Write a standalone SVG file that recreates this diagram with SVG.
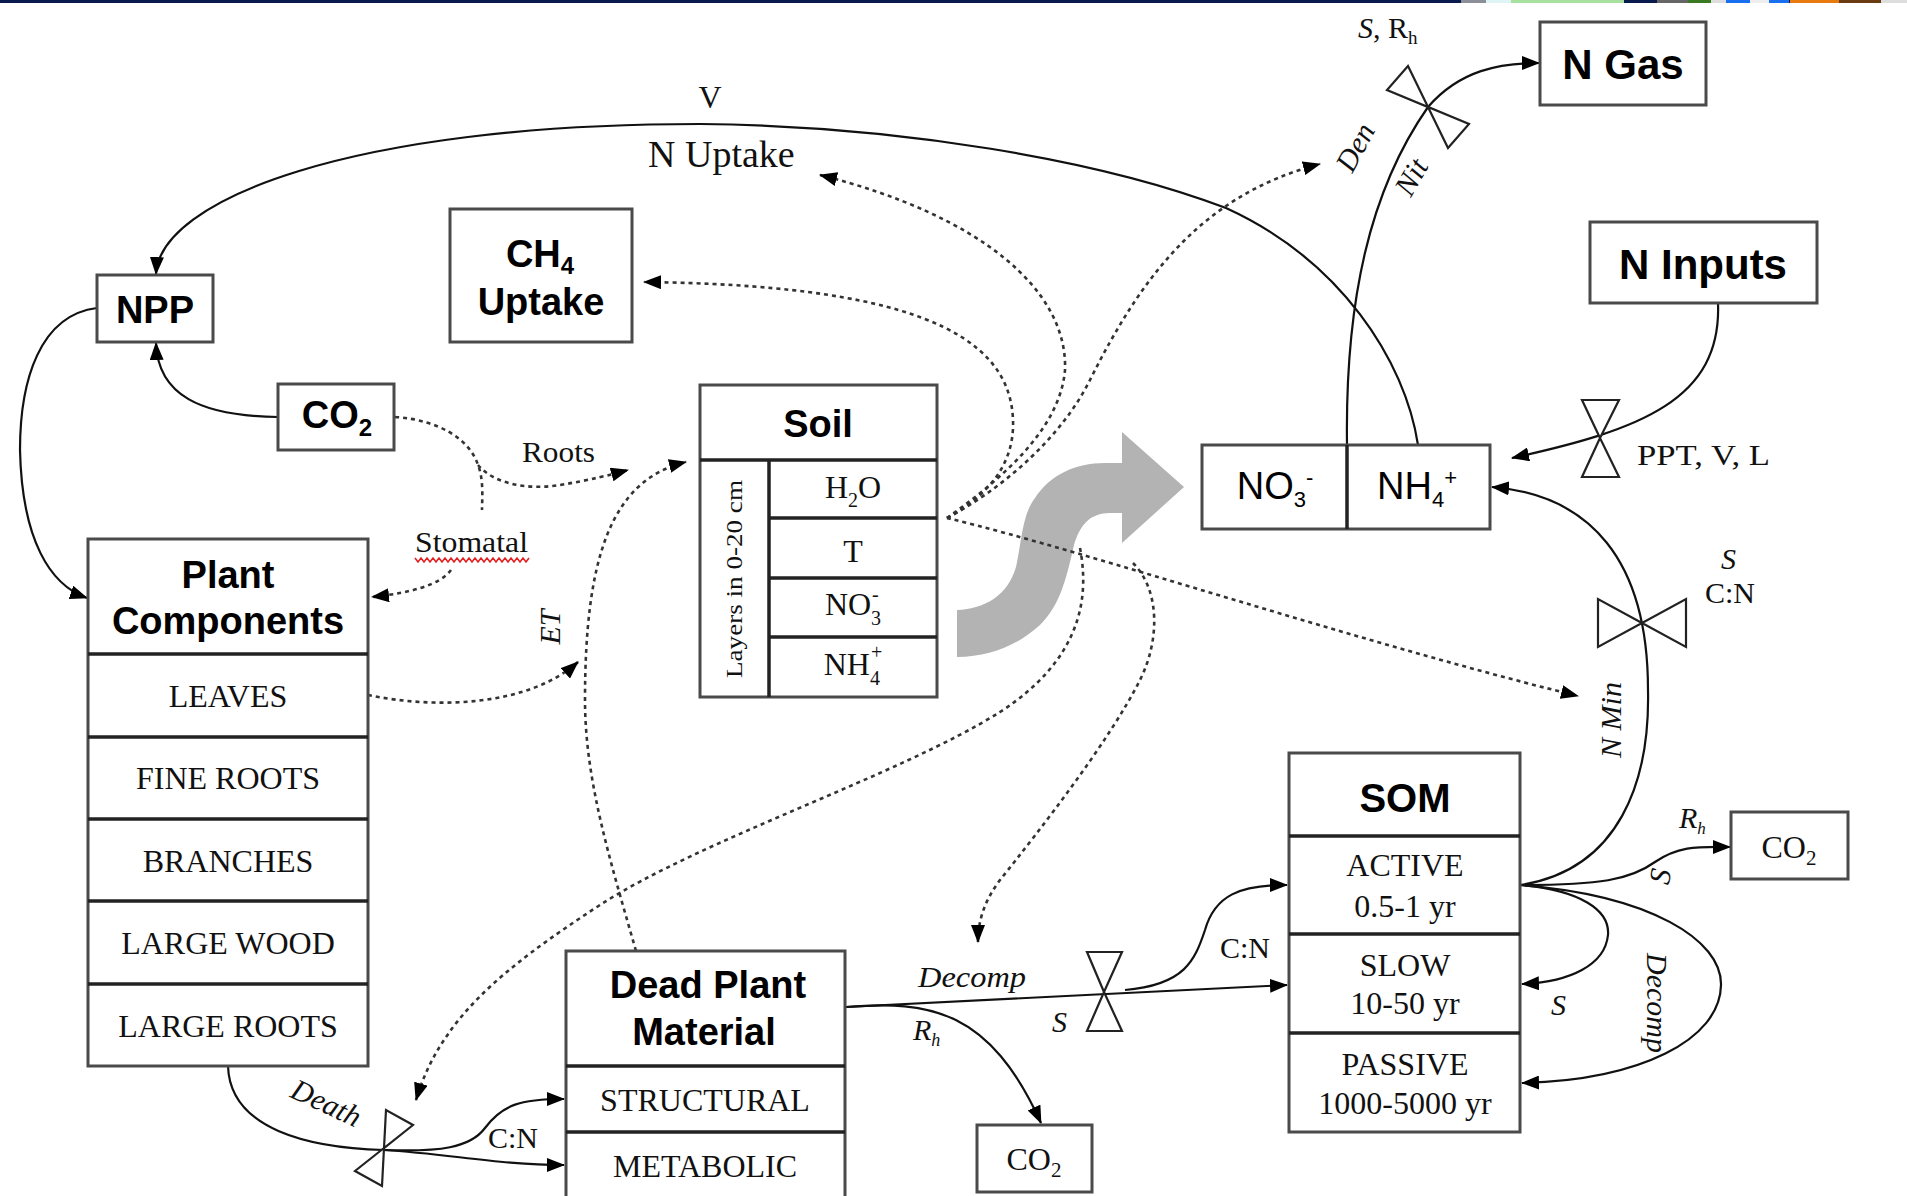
<svg xmlns="http://www.w3.org/2000/svg" width="1907" height="1196" viewBox="0 0 1907 1196">
<style>
.box{fill:#fff;stroke:#4a4a4a;stroke-width:3}
.div{stroke:#222;stroke-width:3.5}
.hb{font-family:"Liberation Sans",Arial,sans-serif;font-weight:bold;font-size:38px;text-anchor:middle;fill:#000}
.sn{font-family:"Liberation Sans",Arial,sans-serif;font-size:38px;text-anchor:middle;fill:#000}
.sr{font-family:"Liberation Serif","Times New Roman",serif;font-size:32px;text-anchor:middle;fill:#111}
.lb{font-family:"Liberation Serif","Times New Roman",serif;font-size:30px;fill:#111}
.it{font-style:italic}
.ln{fill:none;stroke:#111;stroke-width:2.2}
.dt{fill:none;stroke:#333;stroke-width:2.6;stroke-dasharray:4 4}
.valve{fill:#fff;stroke:#222;stroke-width:2.2;stroke-linejoin:miter}
</style>
<defs>
<marker id="ah" viewBox="0 0 18 14" refX="17" refY="7" markerWidth="18" markerHeight="14" markerUnits="userSpaceOnUse" orient="auto"><path d="M0,0 L18,7 L0,14 z" fill="#000" stroke="none"/></marker>
</defs>
<rect width="1907" height="1196" fill="#fff"/>
<g id="topbar">
<rect x="0" y="0" width="1907" height="3" fill="#0b1a4d"/>
<rect x="1461" y="0" width="25" height="3" fill="#8a8f9a"/>
<rect x="1486" y="0" width="25" height="3" fill="#dff5f5"/>
<rect x="1511" y="0" width="113" height="3" fill="#a8e0a0"/>
<rect x="1657" y="0" width="31" height="3" fill="#666"/>
<rect x="1688" y="0" width="23" height="3" fill="#3a7a20"/>
<rect x="1711" y="0" width="15" height="3" fill="#ddd"/>
<rect x="1726" y="0" width="24" height="3" fill="#1a6ef0"/>
<rect x="1750" y="0" width="19" height="3" fill="#eee"/>
<rect x="1769" y="0" width="20" height="3" fill="#1a6ef0"/>
<rect x="1790" y="0" width="49" height="3" fill="#e87a10"/>
<rect x="1839" y="0" width="42" height="3" fill="#6a3a10"/>
<rect x="1881" y="0" width="26" height="3" fill="#ddd"/>
</g>
<path id="gray-arrow" d="M957,610 C985,609 1008,595 1016,567 C1022,540 1022,515 1035,498 C1050,475 1075,463 1105,463 L1122,463 L1122,432 L1184,487 L1122,543 L1122,513 L1110,513 C1090,513 1080,525 1074,545 C1066,580 1060,605 1040,625 C1018,645 990,657 957,657 Z" fill="#b3b3b3"/>
<g id="connectors">
<path class="ln" d="M1418,445 C1405,360 1340,260 1226,208 C1100,160 900,126 700,124 C350,124 160,200 156,274" marker-end="url(#ah)"/>
<path class="ln" d="M1347,445 C1345,300 1370,190 1428,107 C1460,70 1500,63 1539,63" marker-end="url(#ah)"/>
<path class="ln" d="M1718,303 C1722,400 1640,430 1512,458" marker-end="url(#ah)"/>
<path class="ln" d="M1520,885 C1620,870 1650,780 1648,690 C1648,560 1590,495 1492,487" marker-end="url(#ah)"/>
<path class="ln" d="M1520,885 C1600,885 1630,880 1655,862 C1680,845 1700,847 1730,847" marker-end="url(#ah)"/>
<path class="ln" d="M1520,885 C1580,890 1610,910 1608,935 C1605,965 1570,982 1522,984" marker-end="url(#ah)"/>
<path class="ln" d="M1520,885 C1650,895 1722,940 1721,985 C1720,1040 1640,1080 1522,1083" marker-end="url(#ah)"/>
<path class="ln" d="M846,1007 L1287,985" marker-end="url(#ah)"/>
<path class="ln" d="M1125,990 C1185,985 1195,960 1205,930 C1215,895 1240,885 1287,885" marker-end="url(#ah)"/>
<path class="ln" d="M846,1007 C930,1000 990,1010 1041,1123" marker-end="url(#ah)"/>
<path class="ln" d="M228,1066 C230,1130 310,1148 384,1150"/>
<path class="ln" d="M384,1150 C450,1154 500,1165 564,1165" marker-end="url(#ah)"/>
<path class="ln" d="M384,1150 C440,1152 470,1148 485,1128 C502,1105 520,1099 564,1099" marker-end="url(#ah)"/>
<path class="ln" d="M278,417 C200,416 158,395 156,343" marker-end="url(#ah)"/>
<path class="ln" d="M97,308 C40,315 20,380 20,450 C22,540 50,585 87,598" marker-end="url(#ah)"/>
<path class="dt" d="M395,417 C440,420 470,440 478,465 C484,480 482,500 482,510"/>
<path class="dt" d="M478,465 C495,485 530,490 560,485 C590,480 610,475 628,470" marker-end="url(#ah)"/>
<path class="dt" d="M451,570 C440,585 410,593 372,597" marker-end="url(#ah)"/>
<path class="dt" d="M368,695 C440,710 530,705 578,662" marker-end="url(#ah)"/>
<path class="dt" d="M636,951 C610,860 585,780 585,700 C585,560 610,480 686,462" marker-end="url(#ah)"/>
<path class="dt" d="M947,518 C980,500 1015,470 1013,420 C1010,330 900,285 644,282" marker-end="url(#ah)"/>
<path class="dt" d="M947,518 C1000,480 1060,430 1065,370 C1068,290 980,215 820,175" marker-end="url(#ah)"/>
<path class="dt" d="M947,518 C1000,490 1060,440 1090,380 C1140,280 1200,195 1320,164" marker-end="url(#ah)"/>
<path class="dt" d="M947,518 C1100,555 1350,640 1578,696" marker-end="url(#ah)"/>
<path class="dt" d="M1080,548 C1090,600 1080,660 1000,712 C900,775 700,840 600,905 C500,970 440,1020 416,1100" marker-end="url(#ah)"/>
<path class="dt" d="M1133,563 C1160,590 1160,640 1140,680 C1110,740 1040,830 1000,880 C985,900 978,920 978,942" marker-end="url(#ah)"/>
</g>
<g id="valves">
<path class="valve" d="M1428,107 L1408,66 L1387,90 Z M1428,107 L1448,148 L1469,124 Z"/>
<path class="valve" d="M1600,438 L1582,400 L1619,400 Z M1600,438 L1582,477 L1619,477 Z"/>
<path class="valve" d="M1642,623 L1598,599 L1598,647 Z M1642,623 L1686,599 L1686,647 Z"/>
<path class="valve" d="M1104,992 L1087,952 L1122,952 Z M1104,992 L1087,1031 L1122,1031 Z"/>
<path class="valve" d="M384,1148 L386,1110 L413,1125 Z M384,1148 L355,1171 L382,1186 Z"/>
</g>
<g id="npp"><rect class="box" x="97" y="275" width="116" height="67"/><text class="hb" x="155" y="323">NPP</text></g>
<g id="ch4-uptake"><rect class="box" x="450" y="209" width="182" height="133"/><text class="hb" x="540" y="267">CH<tspan font-size="24" dy="7">4</tspan></text><text class="hb" x="541" y="315">Uptake</text></g>
<g id="co2-air"><rect class="box" x="278" y="384" width="116" height="66"/><text class="hb" x="337" y="428">CO<tspan font-size="24" dy="8">2</tspan></text></g>
<g id="soil">
<rect class="box" x="700" y="385" width="237" height="312"/>
<line class="div" x1="700" y1="460" x2="937" y2="460"/>
<line class="div" x1="769" y1="460" x2="769" y2="697"/>
<line class="div" x1="769" y1="518" x2="937" y2="518"/>
<line class="div" x1="769" y1="578" x2="937" y2="578"/>
<line class="div" x1="769" y1="637" x2="937" y2="637"/>
<text class="hb" x="818" y="437">Soil</text>
<text class="sr" transform="translate(742,579) rotate(-90)" style="font-size:24px" textLength="198" lengthAdjust="spacingAndGlyphs">Layers in 0-20 cm</text>
<text class="sr" x="853" y="498">H<tspan font-size="20" dy="9">2</tspan><tspan dy="-9">O</tspan></text>
<text class="sr" x="853" y="562">T</text>
<text class="sr" x="853" y="615">NO<tspan font-size="20" dy="10">3</tspan><tspan font-size="20" dx="-9" dy="-24">-</tspan></text>
<text class="sr" x="853" y="675">NH<tspan font-size="20" dy="10">4</tspan><tspan font-size="20" dx="-9" dy="-26">+</tspan></text>
</g>
<g id="plant-components">
<rect class="box" x="88" y="539" width="280" height="527"/>
<line class="div" x1="88" y1="654" x2="368" y2="654"/>
<line class="div" x1="88" y1="737" x2="368" y2="737"/>
<line class="div" x1="88" y1="819" x2="368" y2="819"/>
<line class="div" x1="88" y1="901" x2="368" y2="901"/>
<line class="div" x1="88" y1="984" x2="368" y2="984"/>
<text class="hb" x="228" y="588">Plant</text>
<text class="hb" x="228" y="634">Components</text>
<text class="sr" x="228" y="707">LEAVES</text>
<text class="sr" x="228" y="789">FINE ROOTS</text>
<text class="sr" x="228" y="872">BRANCHES</text>
<text class="sr" x="228" y="954">LARGE WOOD</text>
<text class="sr" x="228" y="1037">LARGE ROOTS</text>
</g>
<g id="dead-plant-material">
<rect class="box" x="566" y="951" width="279" height="250"/>
<line class="div" x1="566" y1="1066" x2="845" y2="1066"/>
<line class="div" x1="566" y1="1132" x2="845" y2="1132"/>
<text class="hb" x="708" y="998">Dead Plant</text>
<text class="hb" x="704" y="1045">Material</text>
<text class="sr" x="705" y="1111">STRUCTURAL</text>
<text class="sr" x="705" y="1177">METABOLIC</text>
</g>
<g id="co2-litter"><rect class="box" x="977" y="1125" width="115" height="67"/><text class="sr" x="1034" y="1170">CO<tspan font-size="21" dy="7">2</tspan></text></g>
<g id="som">
<rect class="box" x="1289" y="753" width="231" height="379"/>
<line class="div" x1="1289" y1="836" x2="1520" y2="836"/>
<line class="div" x1="1289" y1="934" x2="1520" y2="934"/>
<line class="div" x1="1289" y1="1033" x2="1520" y2="1033"/>
<text class="hb" x="1405" y="812" style="font-size:40px">SOM</text>
<text class="sr" x="1405" y="876">ACTIVE</text>
<text class="sr" x="1405" y="917">0.5-1 yr</text>
<text class="sr" x="1405" y="976">SLOW</text>
<text class="sr" x="1405" y="1014">10-50 yr</text>
<text class="sr" x="1405" y="1075">PASSIVE</text>
<text class="sr" x="1405" y="1114">1000-5000 yr</text>
</g>
<g id="co2-som"><rect class="box" x="1731" y="812" width="117" height="67"/><text class="sr" x="1789" y="858">CO<tspan font-size="21" dy="7">2</tspan></text></g>
<g id="mineral-n">
<rect class="box" x="1202" y="445" width="288" height="84"/>
<line class="div" x1="1347" y1="445" x2="1347" y2="529"/>
<text class="sn" x="1275" y="499">NO<tspan font-size="22" dy="8">3</tspan><tspan font-size="22" dy="-22">-</tspan></text>
<text class="sn" x="1417" y="499">NH<tspan font-size="22" dy="8">4</tspan><tspan font-size="22" dy="-22">+</tspan></text>
</g>
<g id="n-gas"><rect class="box" x="1540" y="22" width="166" height="83"/><text class="hb" x="1623" y="79" style="font-size:42px">N Gas</text></g>
<g id="n-inputs"><rect class="box" x="1590" y="222" width="227" height="81"/><text class="hb" x="1703" y="279" style="font-size:42px">N Inputs</text></g>
<g id="labels">
<text class="lb" x="710" y="108" text-anchor="middle" style="font-size:32px">V</text>
<text class="lb" x="648" y="167" style="font-size:38px">N Uptake</text>
<text class="lb" x="1358" y="38"><tspan class="it">S</tspan>, R<tspan font-size="19" dy="6">h</tspan></text>
<text class="lb it" text-anchor="middle" transform="translate(1364,152) rotate(-62)">Den</text>
<text class="lb it" text-anchor="middle" transform="translate(1420,182) rotate(-60)">Nit</text>
<text class="lb" x="1637" y="465" textLength="133" lengthAdjust="spacingAndGlyphs">PPT, V, L</text>
<text class="lb it" x="1721" y="569">S</text>
<text class="lb" x="1705" y="603">C:N</text>
<text class="lb it" text-anchor="middle" transform="translate(1621,720) rotate(-90)">N Min</text>
<text class="lb it" x="1679" y="828">R<tspan font-size="17" dy="6">h</tspan></text>
<text class="lb it" text-anchor="middle" transform="translate(1670,878) rotate(-80)">S</text>
<text class="lb it" x="1551" y="1015">S</text>
<text class="lb it" text-anchor="middle" transform="translate(1647,1003) rotate(90)">Decomp</text>
<text class="lb it" x="918" y="987" textLength="108" lengthAdjust="spacingAndGlyphs">Decomp</text>
<text class="lb it" x="1052" y="1032">S</text>
<text class="lb it" x="913" y="1040">R<tspan font-size="18" dy="6">h</tspan></text>
<text class="lb" x="1220" y="958">C:N</text>
<text class="lb" x="522" y="462" textLength="73" lengthAdjust="spacingAndGlyphs">Roots</text>
<text class="lb" x="415" y="552" textLength="113" lengthAdjust="spacingAndGlyphs">Stomatal</text>
<path d="M415,558 l3,4 l3,-4 l3,4 l3,-4 l3,4 l3,-4 l3,4 l3,-4 l3,4 l3,-4 l3,4 l3,-4 l3,4 l3,-4 l3,4 l3,-4 l3,4 l3,-4 l3,4 l3,-4 l3,4 l3,-4 l3,4 l3,-4 l3,4 l3,-4 l3,4 l3,-4 l3,4 l3,-4 l3,4 l3,-4 l3,4 l3,-4 l3,4 l3,-4 l3,4 l3,-4" fill="none" stroke="#e02020" stroke-width="1.6"/>
<text class="lb it" text-anchor="middle" transform="translate(560,627) rotate(-90)">ET</text>
<text class="lb it" text-anchor="middle" transform="translate(322,1112) rotate(25)">Death</text>
<text class="lb" x="488" y="1148">C:N</text>
</g>
</svg>
